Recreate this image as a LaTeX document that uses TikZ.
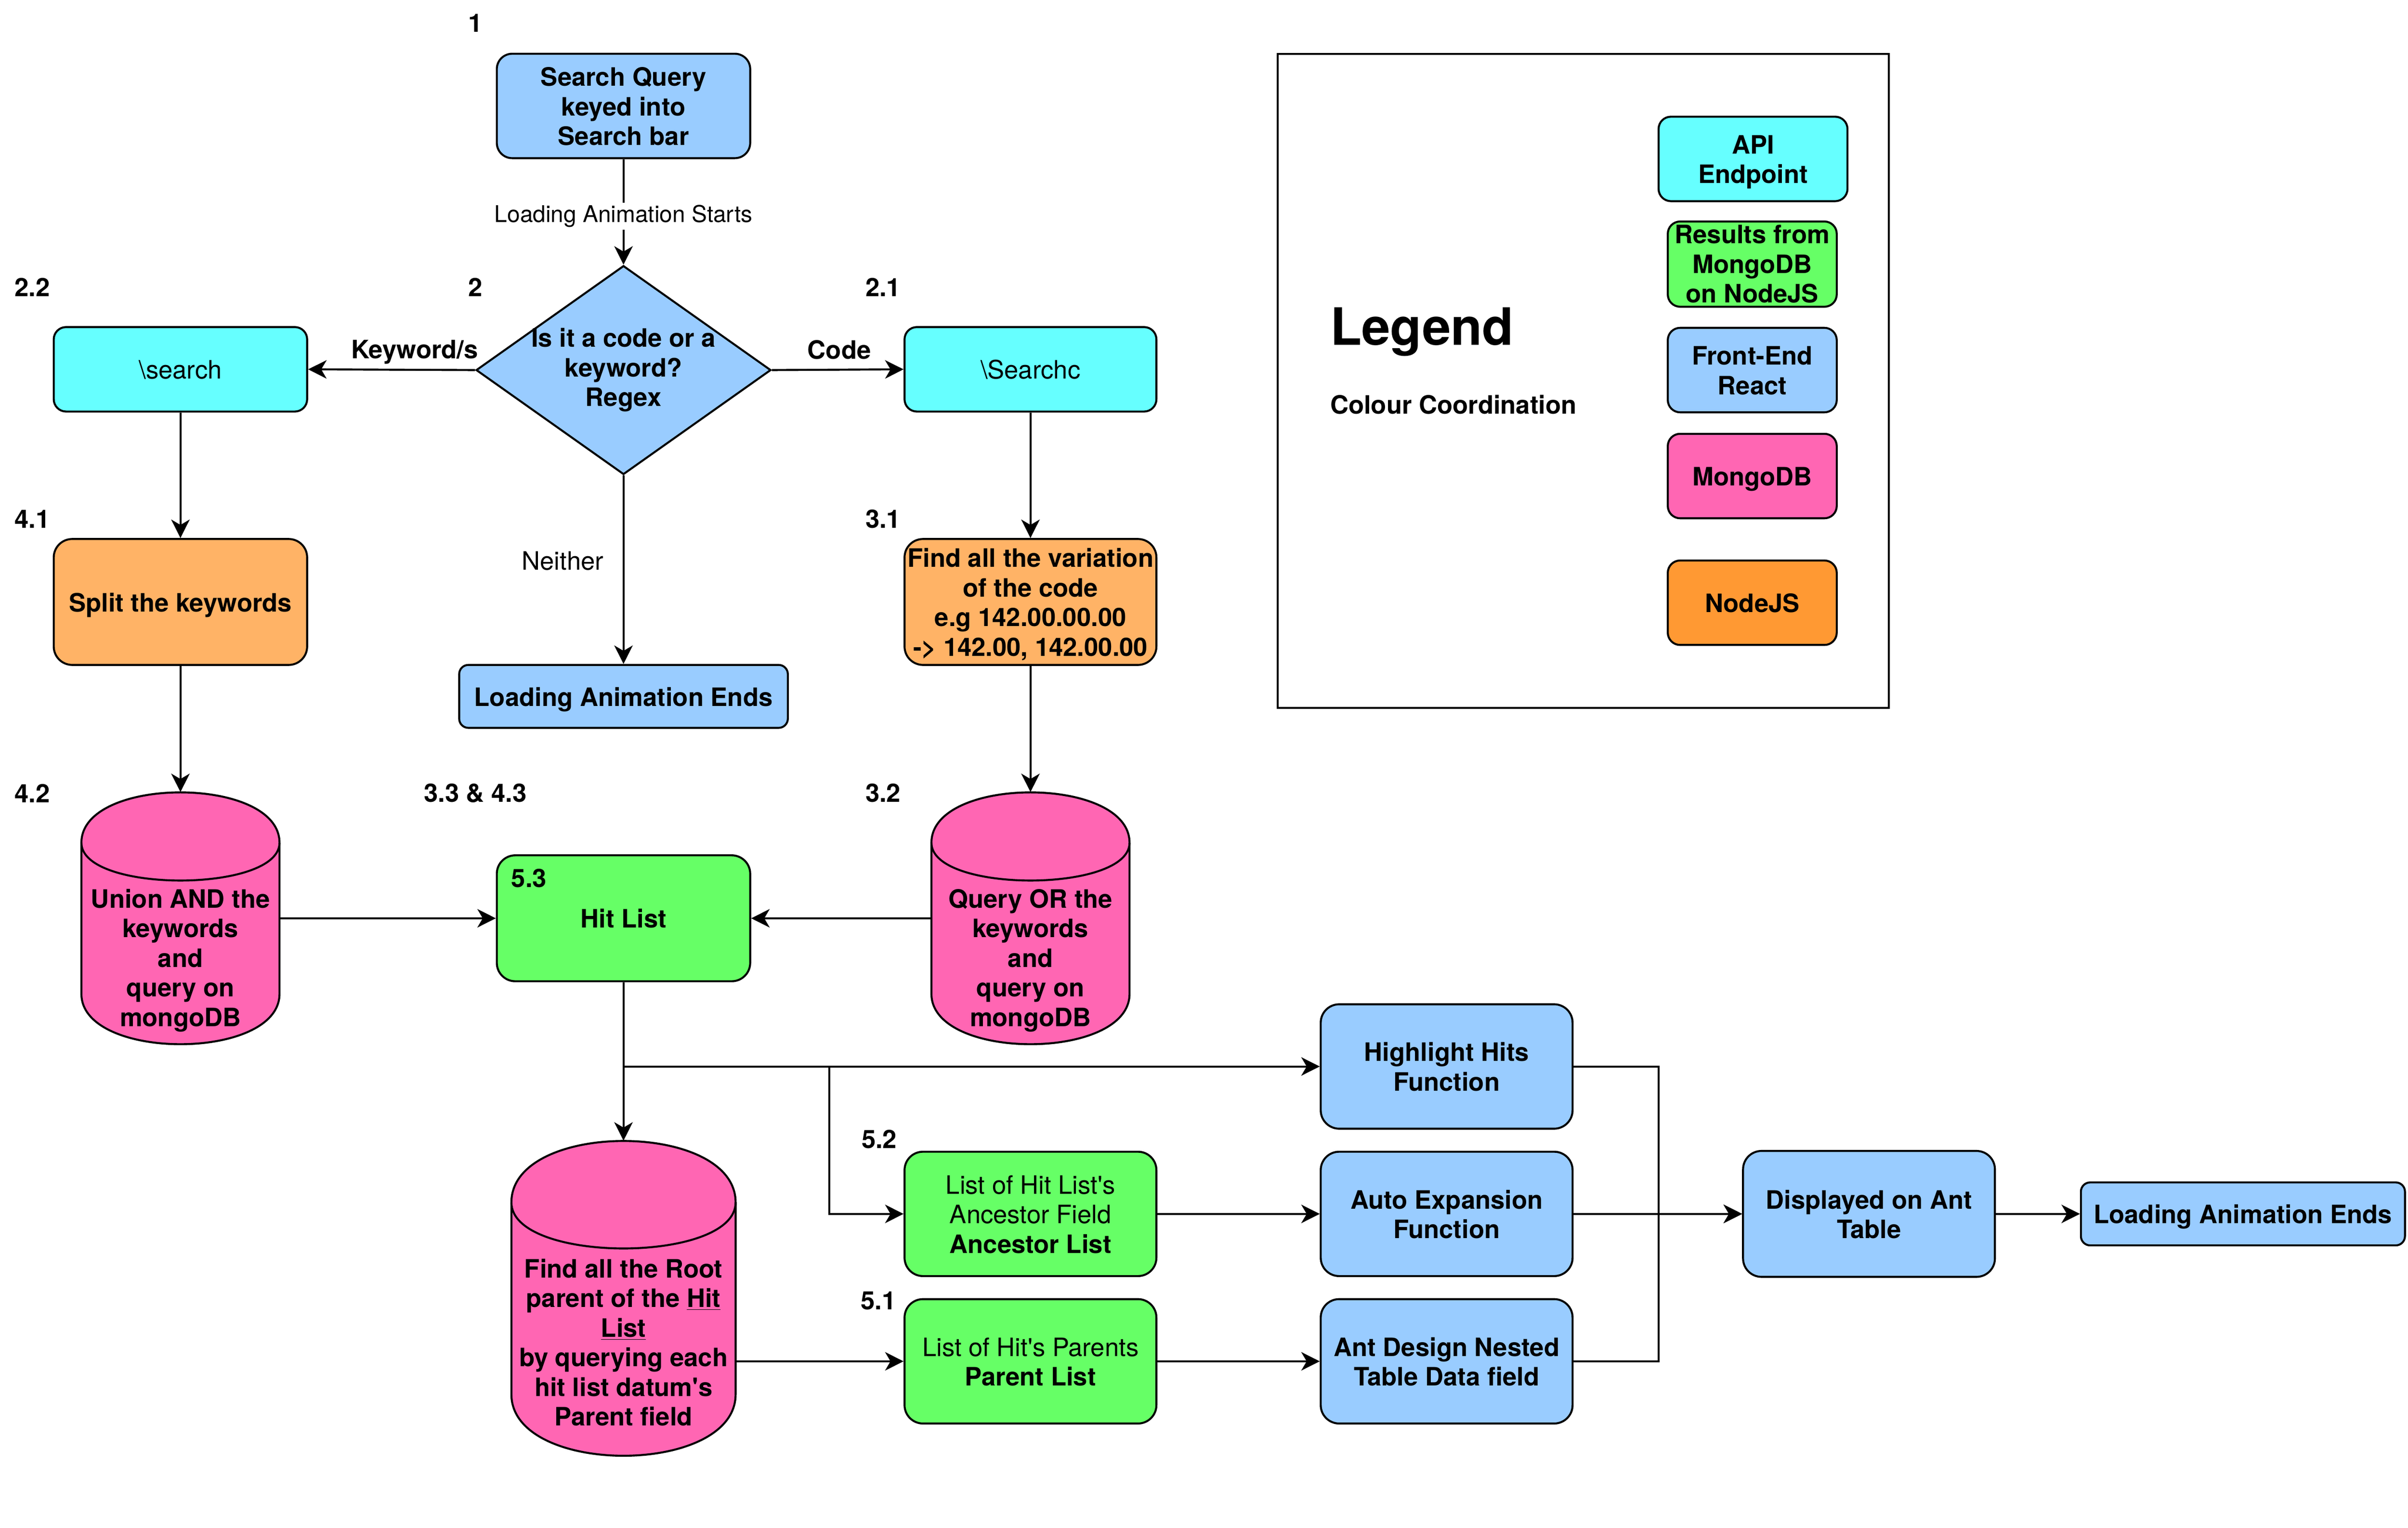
\documentclass[tikz,border=0pt]{standalone}
\usepackage{fontspec}
\setmainfont{TeX Gyre Heros}
\usetikzlibrary{arrows.meta,shapes.geometric}
\definecolor{cblue}{HTML}{99CCFF}
\definecolor{ccyan}{HTML}{66FFFF}
\definecolor{cgreen}{HTML}{66FF66}
\definecolor{cpink}{HTML}{FF66B3}
\definecolor{clorange}{HTML}{FFB366}
\definecolor{corange}{HTML}{FF9933}
\newcommand\fnorm{\fontsize{16.5}{19.3}\selectfont}
\newcommand\fbold{\fontsize{16.5}{19.3}\selectfont\bfseries}
\newcommand\sA{\rule{0pt}{16.6pt}}
\newcommand\sZ{\rule[-4pt]{0pt}{4pt}}
\newcommand\apos{\textquotesingle}
\newcommand\mycyl[5]{%
  \pgfmathsetmacro\cyXa{#1-#3/2}\pgfmathsetmacro\cyXb{#1+#3/2}%
  \pgfmathsetmacro\cyYa{#2+#5}\pgfmathsetmacro\cyYc{#2-#5/3}%
  \pgfmathsetmacro\cyYb{#2+#4-#5}\pgfmathsetmacro\cyYd{#2+#4+#5/3}%
  \pgfmathsetmacro\cyYe{#2+2*#5}%
  \draw[cylst] (\cyXa,\cyYa) .. controls (\cyXa,\cyYc) and (\cyXb,\cyYc) .. (\cyXb,\cyYa) -- (\cyXb,\cyYb) .. controls (\cyXb,\cyYd) and (\cyXa,\cyYd) .. (\cyXa,\cyYb) -- cycle;
  \draw[cylst,fill=none] (\cyXa,\cyYa) .. controls (\cyXa,\cyYe) and (\cyXb,\cyYe) .. (\cyXb,\cyYa);
}
\tikzset{
  lw/.style={line width=1.3pt},
  bx/.style={draw, lw, rectangle, align=center, inner sep=0pt, font=\fbold},
  bxn/.style={bx, font=\fnorm},
  cylst/.style={draw, lw, fill=cpink, line join=round},
  ghost/.style={draw=none, rectangle, inner sep=0pt},
  txt/.style={align=center, inner sep=0pt, font=\fbold},
  num/.style={inner sep=0pt, font=\fbold},
  elab/.style={inner sep=1.5pt, font=\fontsize{15}{18}\selectfont, fill=white},
  arr/.style={lw, -{Stealth[length=12pt,width=12pt,inset=3.5pt]}},
}
\begin{document}
\begin{tikzpicture}[x=1pt,y=-1pt]
\useasboundingbox (0,0) rectangle (1568,995);

% ---------- top part ----------
\node[bx, fill=cblue, rounded corners=10pt, minimum width=165pt, minimum height=68pt] (q) at (406,69) {\sA Search Query\\keyed into\\Search bar\sZ};
\node[diamond, draw, lw, fill=cblue, minimum width=192pt, minimum height=136pt, inner sep=0pt] (d) at (406,241) {};
\node[txt] (dtxt) at (406,239) {\sA Is it a code or a\\keyword?\\Regex\sZ};

\node[bxn, fill=ccyan, rounded corners=8pt, minimum width=165pt, minimum height=55pt] (s22) at (117.5,240.5) {\sA\textbackslash search\sZ};
\node[bxn, fill=ccyan, rounded corners=8pt, minimum width=164pt, minimum height=55pt] (s21) at (671,240.5) {\sA\textbackslash Searchc\sZ};

\node[bx, fill=clorange, rounded corners=12pt, minimum width=165pt, minimum height=82pt] (split) at (117.5,392) {\sA Split the keywords\sZ};
\node[bx, fill=clorange, rounded corners=12pt, minimum width=164pt, minimum height=82pt] (fvar) at (671,392) {\sA Find all the variation\\of the code\\e.g 142.00.00.00\\-> 142.00, 142.00.00\sZ};
\node[bx, fill=cblue, rounded corners=6pt, minimum width=214pt, minimum height=41pt] (load1) at (406,453.5) {\sA Loading Animation Ends\sZ};

% ---------- cylinders ----------
\mycyl{117.5}{516}{129}{164}{32.8}
\node[ghost, minimum width=129pt, minimum height=164pt] (union) at (117.5,598) {};
\node[txt] (uniontxt) at (117.5,623.5) {\sA Union AND the\\keywords\\and\\query on\\mongoDB\sZ};

\mycyl{671}{516}{129}{164}{32.8}
\node[ghost, minimum width=129pt, minimum height=164pt] (query) at (671,598) {};
\node[txt] (querytxt) at (671,623.5) {\sA Query OR the\\keywords\\and\\query on\\mongoDB\sZ};

\mycyl{406}{743}{146}{205}{40}
\node[ghost, minimum width=146pt, minimum height=205pt] (root) at (406,845.5) {};
\node[txt] (roottxt) at (406,874) {\sA Find all the Root\\parent of the \underline{Hit}\\\underline{List}\\by querying each\\hit list datum\apos s\\Parent field\sZ};

% ---------- hit list and results ----------
\node[bx, fill=cgreen, rounded corners=12pt, minimum width=165pt, minimum height=82pt] (hit) at (406,598) {\sA Hit List\sZ};
\node[num] (n53) at (344.5,572) {5.3};

\node[bxn, fill=cgreen, rounded corners=12pt, minimum width=164pt, minimum height=81pt] (anc) at (671,790.5) {\sA List of Hit List\apos s\\Ancestor Field\\\textbf{Ancestor List}\sZ};
\node[bxn, fill=cgreen, rounded corners=12pt, minimum width=164pt, minimum height=81pt] (par) at (671,886.5) {\sA List of Hit\apos s Parents\\\textbf{Parent List}\sZ};

\node[bx, fill=cblue, rounded corners=12pt, minimum width=164pt, minimum height=81pt] (hl) at (942,694.5) {\sA Highlight Hits\\Function\sZ};
\node[bx, fill=cblue, rounded corners=12pt, minimum width=164pt, minimum height=81pt] (auto) at (942,790.5) {\sA Auto Expansion\\Function\sZ};
\node[bx, fill=cblue, rounded corners=12pt, minimum width=164pt, minimum height=81pt] (ant) at (942,886.5) {\sA Ant Design Nested\\Table Data field\sZ};
\node[bx, fill=cblue, rounded corners=12pt, minimum width=164pt, minimum height=82pt] (disp) at (1217,790.5) {\sA Displayed on Ant\\Table\sZ};
\node[bx, fill=cblue, rounded corners=6pt, minimum width=211pt, minimum height=41pt] (load2) at (1460.5,790.5) {\sA Loading Animation Ends\sZ};

% ---------- legend ----------
\node[draw, lw, rectangle, inner sep=0pt, minimum width=398pt, minimum height=426pt] (legend) at (1031,248) {};
\node[anchor=base west, inner sep=0pt, font=\fontsize{33.5}{40}\selectfont\bfseries] (legtitle) at (866,224.7) {Legend};
\node[anchor=base west, inner sep=0pt, font=\fbold] (legsub) at (866,269.5) {Colour Coordination};
\node[bx, fill=ccyan, rounded corners=8pt, minimum width=123pt, minimum height=55pt] (lgapi) at (1141.5,103.5) {\sA API\\Endpoint\sZ};
\node[bx, fill=cgreen, rounded corners=8pt, minimum width=110pt, minimum height=55.5pt] (lgres) at (1141,172) {Results from\\MongoDB\\on NodeJS};
\node[bx, fill=cblue, rounded corners=8pt, minimum width=110pt, minimum height=55pt] (lgfe) at (1141,241) {\sA Front-End\\React\sZ};
\node[bx, fill=cpink, rounded corners=8pt, minimum width=110pt, minimum height=55pt] (lgmongo) at (1141,310) {\sA MongoDB\sZ};
\node[bx, fill=corange, rounded corners=8pt, minimum width=110pt, minimum height=55pt] (lgnode) at (1141,392.5) {\sA NodeJS\sZ};

% ---------- step numbers ----------
\node[num] (n1) at (309.5,15) {1};
\node[num] (n2) at (309.5,187) {2};
\node[num] (n22) at (21,187) {2.2};
\node[num] (n21) at (575,187) {2.1};
\node[num] (n41) at (21,338) {4.1};
\node[num] (n31) at (575,338) {3.1};
\node[num] (n42) at (21,516.5) {4.2};
\node[num] (n3343) at (309.5,516.5) {3.3 \& 4.3};
\node[num] (n32) at (575,516.5) {3.2};
\node[num] (n52) at (572.5,742) {5.2};
\node[num] (n51) at (572,847) {5.1};

% ---------- connectors ----------
\draw[arr] (q.south) -- node[elab, pos=0.54] (lstart) {Loading Animation Starts} (d.north);
\draw[arr] (d.west) -- (s22.east);
\node[num] (lkw) at (270,229.4) {Keyword/s};
\draw[arr] (d.east) -- (s21.west);
\node[num] (lcode) at (546.5,227.8) {Code};
\draw[arr] (d.south) -- (load1.north);
\node[inner sep=0pt, font=\fnorm] (lneither) at (366.4,365.4) {Neither};

\draw[arr] (s22.south) -- (split.north);
\draw[arr] (s21.south) -- (fvar.north);
\draw[arr] (split.south) -- (union.north);
\draw[arr] (fvar.south) -- (query.north);
\draw[arr] (union.east |- hit.west) -- (hit.west);
\draw[arr] (query.west |- hit.east) -- (hit.east);

\coordinate (br) at (540,694.5);
\coordinate (mx) at (1080,790.5);
\draw[arr] (hit.south) -- (root.north);
\draw[arr] (hit.south) |- (hl.west);
\draw[arr] (hit.south) |- (br) |- (anc.west);
\draw[arr] (root.east |- par.west) -- (par.west);
\draw[arr] (anc.east) -- (auto.west);
\draw[arr] (par.east) -- (ant.west);
\draw[arr] (hl.east) -| (mx) -- (disp.west);
\draw[arr] (ant.east) -| (mx) -- (disp.west);
\draw[arr] (auto.east) -- (disp.west);
\draw[arr] (disp.east) -- (load2.west);
\end{tikzpicture}
\end{document}
